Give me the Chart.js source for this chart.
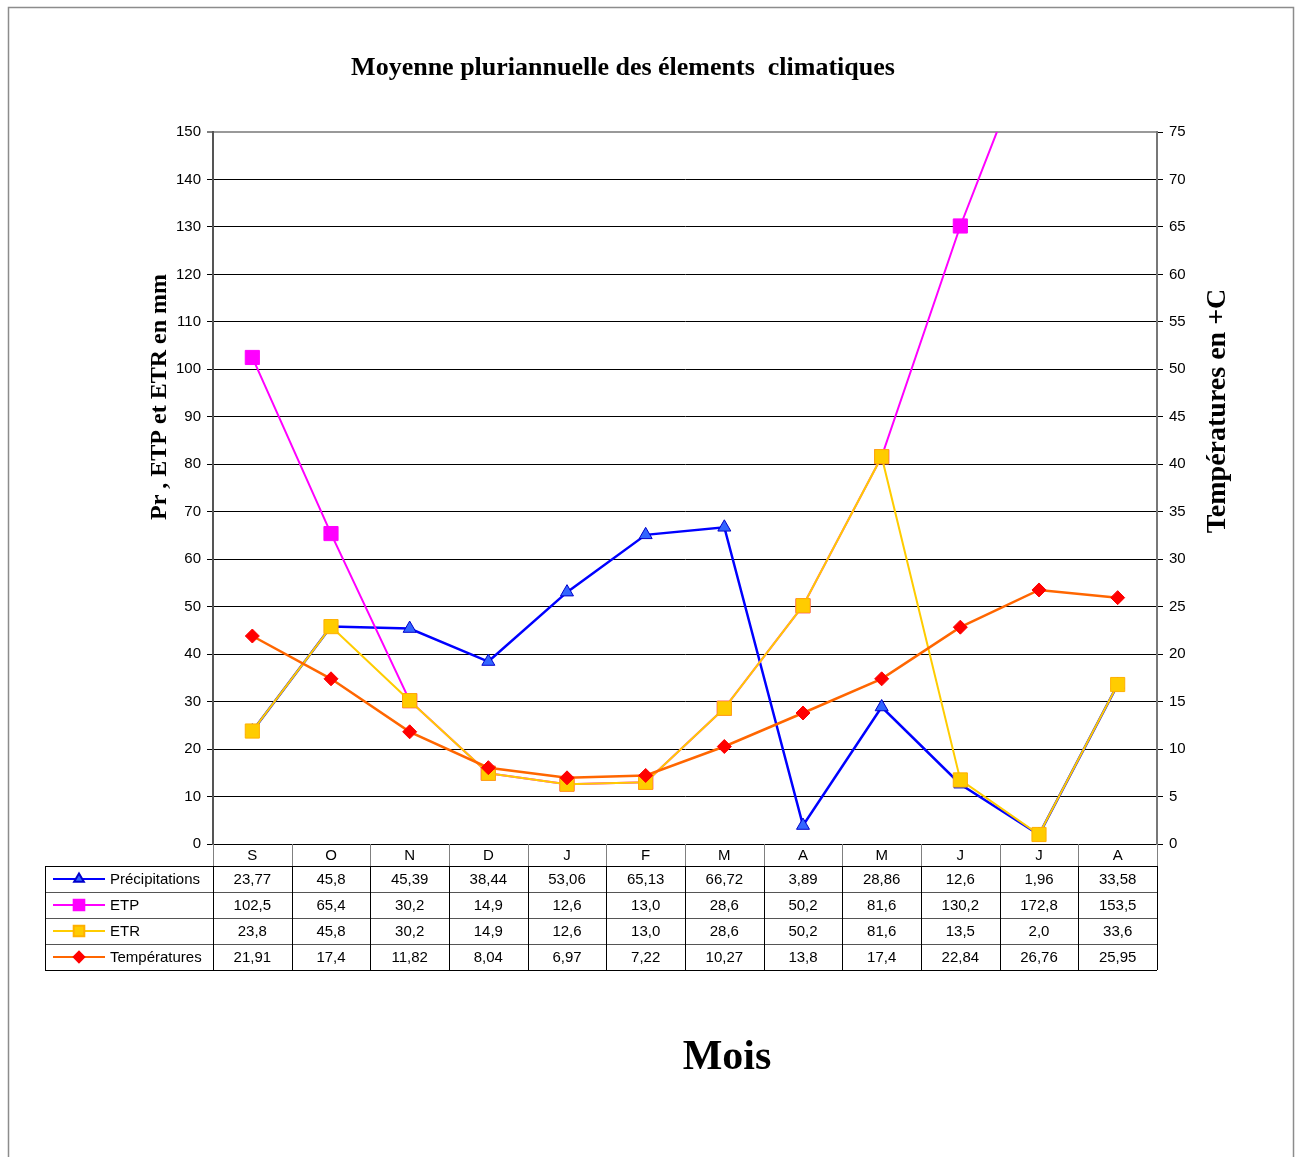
<!DOCTYPE html>
<html>
<head>
<meta charset="utf-8">
<script src="https://cdn.jsdelivr.net/npm/chart.js@4/dist/chart.umd.min.js"></script>
<style>
  body { margin: 0; background: #fff; }
  #wrap { position: relative; width: 1302px; height: 1157px; }
</style>
</head>
<body>
<div id="wrap"><canvas id="climChart"></canvas></div>
<script>
const mois = ['S', 'O', 'N', 'D', 'J', 'F', 'M', 'A', 'M', 'J', 'J', 'A'];
const precipitations = [23.77, 45.8, 45.39, 38.44, 53.06, 65.13, 66.72, 3.89, 28.86, 12.6, 1.96, 33.58];
const etp = [102.5, 65.4, 30.2, 14.9, 12.6, 13.0, 28.6, 50.2, 81.6, 130.2, 172.8, 153.5];
const etr = [23.8, 45.8, 30.2, 14.9, 12.6, 13.0, 28.6, 50.2, 81.6, 13.5, 2.0, 33.6];
const temperatures = [21.91, 17.4, 11.82, 8.04, 6.97, 7.22, 10.27, 13.8, 17.4, 22.84, 26.76, 25.95];
const mmTicks = [0, 10, 20, 30, 40, 50, 60, 70, 80, 90, 100, 110, 120, 130, 140, 150];
const tempTicks = [0, 5, 10, 15, 20, 25, 30, 35, 40, 45, 50, 55, 60, 65, 70, 75];

// number of decimals shown in the table (null = as is)
const tableDigits = [null, 1, 1, null];

function fmt(v, digits) {
  const s = digits == null ? String(v) : v.toFixed(digits);
  return s.replace('.', ',');
}

const decor = {
  id: 'decor',
  beforeDraw(chart) {
    const ctx = chart.ctx;
    ctx.save();
    ctx.fillStyle = '#fff';
    ctx.fillRect(0, 0, chart.width, chart.height);
    ctx.strokeStyle = '#8c8c8c';
    ctx.lineWidth = 1.5;
    ctx.strokeRect(8.5, 7.5, 1285, 1200);
    ctx.restore();
  },
  afterDraw(chart) {
    const ctx = chart.ctx;
    const area = chart.chartArea;
    const n = mois.length;
    const colW = (area.right - area.left) / n;
    const top = area.bottom;
    const headH = 22, rowH = 26, legLeft = 45;
    const sets = chart.data.datasets;

    ctx.save();
    // titles
    ctx.fillStyle = '#000';
    ctx.textAlign = 'center';
    ctx.textBaseline = 'middle';
    ctx.font = 'bold 26px "Liberation Serif"';
    ctx.fillText('Moyenne pluriannuelle des élements  climatiques', 623, 68);
    ctx.font = 'bold 42px "Liberation Serif"';
    ctx.fillText('Mois', 727, 1058);

    ctx.save();
    ctx.translate(160, 397);
    ctx.rotate(-Math.PI / 2);
    ctx.font = 'bold 24px "Liberation Serif"';
    ctx.fillText('Pr , ETP et ETR en mm', 0, 0);
    ctx.restore();

    ctx.save();
    ctx.translate(1218, 411);
    ctx.rotate(-Math.PI / 2);
    ctx.font = 'bold 28px "Liberation Serif"';
    ctx.fillText('Températures en +C', 0, 0);
    ctx.restore();

    // table grid
    const rowsTop = top + headH;
    const bottom = rowsTop + rowH * sets.length;
    ctx.lineWidth = 1;
    ctx.strokeStyle = '#808080';
    for (let i = 0; i <= n; i++) {
      const x = Math.round(area.left + i * colW) + 0.5;
      ctx.beginPath(); ctx.moveTo(x, top); ctx.lineTo(x, rowsTop); ctx.stroke();
    }
    for (let r = 0; r <= sets.length; r++) {
      const y = Math.round(rowsTop + r * rowH) + 0.5;
      ctx.strokeStyle = (r === 0 || r === sets.length) ? '#000' : '#555';
      ctx.beginPath(); ctx.moveTo(legLeft, y); ctx.lineTo(area.right, y); ctx.stroke();
    }
    ctx.strokeStyle = '#000';
    const xs = [legLeft];
    for (let i = 0; i <= n; i++) xs.push(area.left + i * colW);
    xs.forEach(x0 => {
      const x = Math.round(x0) + 0.5;
      ctx.beginPath(); ctx.moveTo(x, rowsTop); ctx.lineTo(x, bottom); ctx.stroke();
    });

    // header
    ctx.font = '15px "Liberation Sans"';
    ctx.fillStyle = '#000';
    ctx.textAlign = 'center';
    mois.forEach((m, i) => {
      ctx.fillText(m, chart.scales.x.getPixelForValue(i), top + headH / 2 + 1);
    });

    // rows
    sets.forEach((ds, r) => {
      const yc = rowsTop + r * rowH + rowH / 2 + 1;
      ds.data.forEach((v, i) => {
        ctx.textAlign = 'center';
        ctx.fillStyle = '#000';
        ctx.fillText(fmt(v, tableDigits[r]), chart.scales.x.getPixelForValue(i), yc);
      });
      // legend key
      ctx.strokeStyle = ds.borderColor;
      ctx.lineWidth = 2;
      ctx.beginPath(); ctx.moveTo(53, yc - 1); ctx.lineTo(105, yc - 1); ctx.stroke();
      ctx.fillStyle = ds.pointBackgroundColor;
      ctx.strokeStyle = ds.pointBorderColor;
      Chart.helpers.drawPoint(ctx, {
        pointStyle: ds.pointStyle, radius: ds.pointRadius * 0.75, rotation: 0, borderWidth: 1
      }, 79, yc - 1);
      ctx.fillStyle = '#000';
      ctx.textAlign = 'left';
      ctx.fillText(ds.label, 110, yc);
    });
    ctx.restore();
  }
};

new Chart(document.getElementById('climChart'), {
  type: 'line',
  data: {
    labels: mois,
    datasets: [
      {
        label: 'Précipitations', data: precipitations, yAxisID: 'y', order: 4,
        borderColor: '#0000ff', borderWidth: 2.5,
        pointStyle: 'triangle', pointRadius: 7.5,
        pointBackgroundColor: '#3366ff', pointBorderColor: '#0000cc', pointBorderWidth: 1
      },
      {
        label: 'ETP', data: etp, yAxisID: 'y', order: 3,
        borderColor: '#ff00ff', borderWidth: 2,
        pointStyle: 'rect', pointRadius: 10,
        pointBackgroundColor: '#ff00ff', pointBorderColor: '#ff00ff', pointBorderWidth: 1
      },
      {
        label: 'ETR', data: etr, yAxisID: 'y', order: 2,
        borderColor: '#ffcc00', borderWidth: 2,
        pointStyle: 'rect', pointRadius: 10,
        pointBackgroundColor: '#ffcc00', pointBorderColor: '#ffb000', pointBorderWidth: 1
      },
      {
        label: 'Températures', data: temperatures, yAxisID: 'y1', order: 1,
        borderColor: '#ff6600', borderWidth: 2.5,
        pointStyle: 'rectRot', pointRadius: 7,
        pointBackgroundColor: '#ff0000', pointBorderColor: '#ff0000', pointBorderWidth: 1
      }
    ]
  },
  options: {
    responsive: true,
    maintainAspectRatio: false,
    animation: false,
    layout: { padding: { top: 132, bottom: 313, left: 0, right: 0 } },
    plugins: { legend: { display: false }, tooltip: { enabled: false } },
    scales: {
      x: { type: 'category', offset: true, display: false },
      y: {
        position: 'left', min: 0, max: 150,
        afterBuildTicks: s => { s.ticks = mmTicks.map(v => ({ value: v })); },
        afterFit: s => { s.width = 213; },
        ticks: { color: '#000', padding: 6, font: { family: 'Liberation Sans', size: 15 } },
        grid: {
          color: c => (c.tick && c.tick.value === 150) ? '#999' : '#000',
          lineWidth: c => (c.tick && c.tick.value === 150) ? 2 : 1,
          tickLength: 6, tickColor: '#000', tickWidth: 1
        },
        border: { color: '#555', width: 2 }
      },
      y1: {
        position: 'right', min: 0, max: 75,
        afterBuildTicks: s => { s.ticks = tempTicks.map(v => ({ value: v })); },
        afterFit: s => { s.width = 145; },
        ticks: { color: '#000', padding: 6, font: { family: 'Liberation Sans', size: 15 } },
        grid: { drawOnChartArea: false, tickLength: 6, tickColor: '#000', tickWidth: 1 },
        border: { color: '#777', width: 2 }
      }
    }
  },
  plugins: [decor]
});
</script>
</body>
</html>
